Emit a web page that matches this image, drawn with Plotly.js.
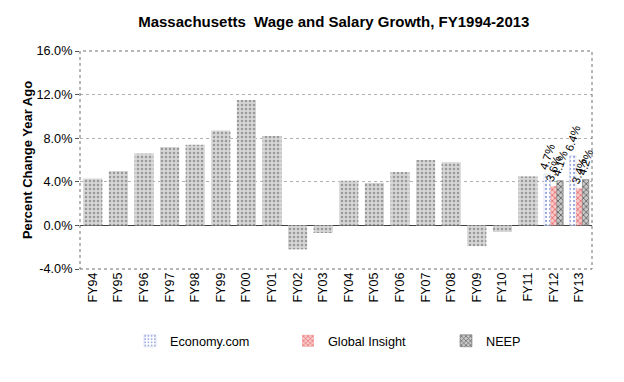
<!DOCTYPE html>
<html><head><meta charset="utf-8">
<script src="https://cdn.plot.ly/plotly-3.0.1.min.js"></script>
<style>body{margin:0;background:#fff}#c{width:624px;height:382px}</style>
</head><body><div id="c"></div>
<script>
const categories = ["FY94","FY95","FY96","FY97","FY98","FY99","FY00","FY01","FY02","FY03","FY04","FY05","FY06","FY07","FY08","FY09","FY10","FY11","FY12","FY13"];
const history = [4.3,5.0,6.6,7.2,7.4,8.7,11.5,8.2,-2.2,-0.7,4.1,3.9,4.9,6.0,5.8,-1.9,-0.6,4.5,null,null];
const forecastCats = ["FY12","FY13"];
const economyCom = [4.7,6.4];
const globalInsight = [3.6,3.4];
const neep = [4.1,4.2];
const yTicks = [-4,0,4,8,12,16];
const yTickText = ["-4.0%","0.0%","4.0%","8.0%","12.0%","16.0%"];

const font = "Liberation Sans, Arial, sans-serif";
const pct = v => v.toFixed(1) + "%";
const labelStyle = {textposition:"outside", textangle:-72, cliponaxis:false, constraintext:"none",
  textfont:{family:font,size:11.5,color:"#000"}};
const traces = [
  {type:"bar", x:categories, y:history, width:0.75, offset:-0.375, showlegend:false, hoverinfo:"skip",
   marker:{color:"#cccccc", line:{width:0}, pattern:{shape:".", fgcolor:"#999999", bgcolor:"#d6d6d6", size:4, solidity:0.3}}},
  Object.assign({type:"bar", name:"Economy.com", x:forecastCats, y:economyCom, width:0.25, offset:-0.375,
   text:economyCom.map(pct),
   marker:{color:"#ffffff", line:{width:0.5,color:"#c0c8e8"}, pattern:{shape:".", fgcolor:"#9aa8e0", bgcolor:"#ffffff", size:4, solidity:0.25}}}, labelStyle),
  Object.assign({type:"bar", name:"Global Insight", x:forecastCats, y:globalInsight, width:0.25, offset:-0.125,
   text:globalInsight.map(pct),
   marker:{color:"#f4a0a0", line:{width:0}, pattern:{shape:"x", fgcolor:"#e05050", bgcolor:"#f8c8c8", size:4, solidity:0.3}}}, labelStyle),
  Object.assign({type:"bar", name:"NEEP", x:forecastCats, y:neep, width:0.25, offset:0.125,
   text:neep.map(pct),
   marker:{color:"#a0a0a0", line:{width:0.5,color:"#606060"}, pattern:{shape:"x", fgcolor:"#555555", bgcolor:"#c8c8c8", size:4, solidity:0.35}}}, labelStyle)
];
const layout = {
  width:624, height:382, paper_bgcolor:"#fff", plot_bgcolor:"#fff",
  margin:{l:80, r:32, t:51, b:113, autoexpand:false},
  barmode:"overlay",
  font:{family:font, size:12.5, color:"#000"},
  title:{text:"<b>Massachusetts  Wage and Salary Growth, FY1994-2013</b>", x:0.535, xanchor:"center", y:1-22/382, yanchor:"middle", font:{size:15, family:font}},
  xaxis:{type:"category", categoryorder:"array", categoryarray:categories, tickangle:-90, tickfont:{size:12.5}, showgrid:false, showline:false, zeroline:false, ticks:"", range:[-0.5,19.5]},
  yaxis:{range:[-4,16], tickvals:yTicks, ticktext:yTickText, tickfont:{size:12.7}, showgrid:true, gridcolor:"#b0b0b0", griddash:"dot", gridwidth:1,
    zeroline:true, zerolinecolor:"#404040", zerolinewidth:1, showline:false, ticks:"outside", ticklen:4, tickcolor:"#555",
    title:{text:"<b>Percent Change Year Ago</b>", font:{size:13}, standoff:0}},
  legend:{orientation:"h", xref:"container", yref:"container", x:130/624, xanchor:"left", y:1-326/382, yanchor:"top",
    font:{size:12.7}, itemwidth:30, tracegroupgap:0, entrywidth:113, entrywidthmode:"pixels"},
  shapes:[{type:"rect", xref:"paper", yref:"paper", x0:0, x1:1, y0:0, y1:1, line:{color:"#707070", width:1, dash:"dot"}, fillcolor:"rgba(0,0,0,0)"}]
};
Plotly.newPlot("c", traces, layout, {displayModeBar:false, staticPlot:true});
</script></body></html>
